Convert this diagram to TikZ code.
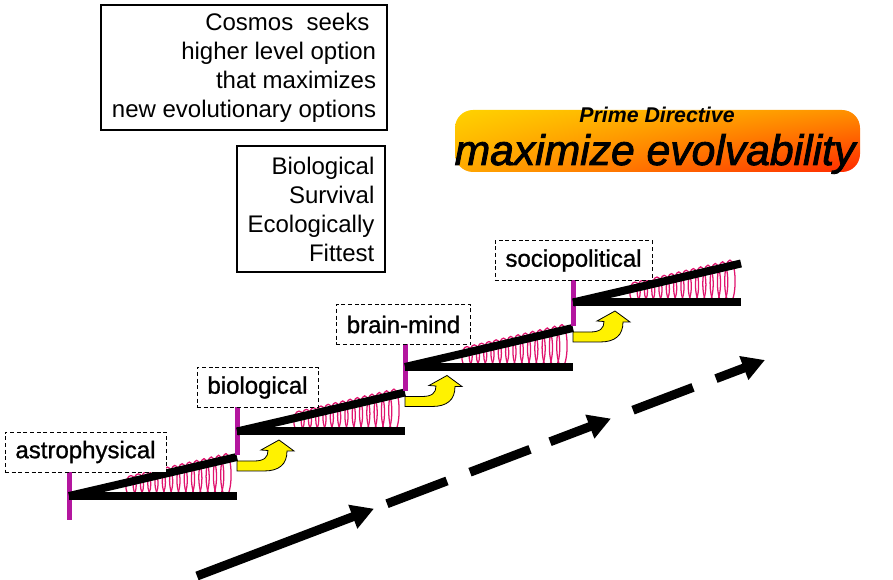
\documentclass[tikz,border=0pt]{standalone}
\usepackage{fontspec}
\setmainfont{Liberation Sans}
\newfontfamily\evofont[UprightFeatures={FakeBold=2}, ItalicFeatures={FakeBold=2}]{Liberation Sans}
\newfontfamily\levelfont[FakeBold=1]{Liberation Sans}
\usetikzlibrary{calc,arrows.meta,shadings}
\definecolor{stembar}{HTML}{B4169F}
\definecolor{coil}{HTML}{E0146E}
\definecolor{bannerUL}{HTML}{FFD200}
\definecolor{bannerUR}{HTML}{FF9000}
\definecolor{bannerLL}{HTML}{FFA800}
\definecolor{bannerLR}{HTML}{FF2800}
\tikzstyle{note} = [draw, line width=0.9pt, align=right, font=\fontsize{18}{21.75}\selectfont]
\tikzstyle{level} = [draw, fill=white, line width=0.6pt, dash pattern=on 3pt off 2pt, inner xsep=7.9pt, inner ysep=2pt, minimum height=30pt, font=\levelfont\fontsize{18}{21.75}\selectfont]
\tikzstyle{banner} = [shade, rounded corners=13.5pt, upper left=bannerUL, upper right=bannerUR, lower left=bannerLL, lower right=bannerLR, minimum width=303.75pt, minimum height=46.5pt, inner sep=0pt]
\tikzstyle{beam} = [line width=6pt]
\tikzstyle{flow} = [line width=6.75pt]
\tikzstyle{turn} = [draw=black, fill=yellow, line width=0.6pt]

\begin{document}
\begin{tikzpicture}[x=0.75pt, y=-0.75pt]
	\useasboundingbox (0,0) rectangle (893,580);
	\node[note, minimum width=214.5pt, minimum height=93.75pt] (cosmos) at (244,67.5)
	{Cosmos\ \ seeks\hspace*{.28em}\\higher level option\\that maximizes\hspace*{.28em}\\new evolutionary options};
	\node[note, minimum width=111pt, minimum height=94.5pt] (survival) at (311,209)
	{Biological\\Survival\hspace*{.5em}\\Ecologically\\Fittest};
	\node[banner] (banner) at (657.5,141) {};
	\node[font=\fontsize{16}{16}\selectfont\bfseries\itshape, anchor=base] (prime) at (657,123) {Prime Directive};
	\node[font=\evofont\fontsize{32}{32}\selectfont\itshape, anchor=base] (evo) at (655,165) {maximize evolvability};

	\foreach \i in {0,...,3}
		\coordinate (o\i) at ({69+168*\i},{496-64.5*\i});
	\foreach \i in {0,...,3}{
		\draw[stembar, line width=3.75pt] ($(o\i)+(0,-25)$) -- ($(o\i)+(0,24)$);
		\foreach \k in {0,...,13}{
			\pgfmathsetmacro\cx{62+7.3*\k}
			\pgfmathsetmacro\ch{39*\cx/168+6}
			\pgfmathsetmacro\ry{\ch*0.375}
			\draw[coil, line width=0.95pt] ($(o\i)+(\cx,-\ch/2)$) ellipse [x radius=3.9pt, y radius=\ry pt];
		}
		\draw[beam] (o\i) -- ++(168,0);
		\draw[beam] (o\i) -- ++(168,-39);
	}
	\foreach \i in {1,2,3}
		\draw[turn, shift={(o\i)}] (0,29.5) -- (17,29.5) .. controls (27,29.5) and (31,26) .. (31,19)
		-- (24,18.5) -- (42,8.5) -- (57,19.5) -- (50,19.5)
		.. controls (50,33) and (42,39.5) .. (27,39.5) -- (0,39.5) -- cycle;

	\coordinate (flowstart) at (197,576);
	\coordinate (flowend) at (765,360);
	\foreach \a/\b in {0/0.3116, 0.6215/0.7289, 0.9137/1}
		\draw[flow, -{Triangle[length=17pt, width=18pt]}] ($(flowstart)!\a!(flowend)$) -- ($(flowstart)!\b!(flowend)$);
	\foreach \a/\b in {0.3345/0.4401, 0.4806/0.5863, 0.7676/0.8732}
		\draw[flow] ($(flowstart)!\a!(flowend)$) -- ($(flowstart)!\b!(flowend)$);

	\node[level] (astro) at (85.5,452) {astrophysical};
	\node[level] (bio) at (257.5,387.5) {biological};
	\node[level] (brain) at (403.5,324.5) {brain-mind};
	\node[level] (socio) at (573.5,260.5) {sociopolitical};
\end{tikzpicture}
\end{document}
